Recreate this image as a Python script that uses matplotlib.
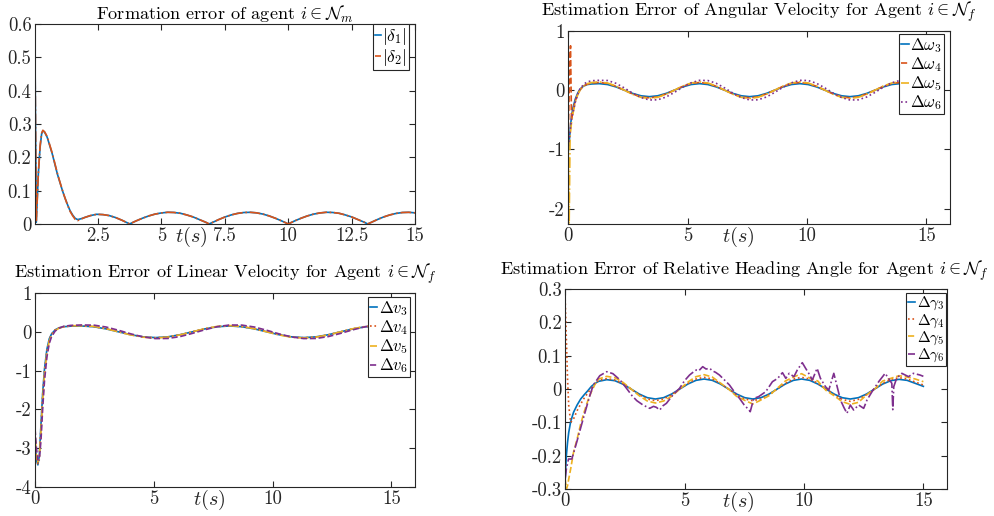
import numpy as np
import matplotlib
matplotlib.use("Agg")
import matplotlib.pyplot as plt

plt.rcParams['font.family'] = 'serif'
plt.rcParams['font.serif'] = ['cmr10', 'DejaVu Serif']
plt.rcParams['mathtext.fontset'] = 'cm'
plt.rcParams['axes.unicode_minus'] = False

C1, C2, C3, C4 = '#0072BD', '#D95319', '#EDB120', '#7E2F8E'
GRAY = '#262626'

# ---- formation error |delta_1|, |delta_2|
t_m = [0.02, 0.07, 0.15, 0.22, 0.28, 0.33, 0.4, 0.5, 0.6, 0.7, 0.8, 0.9, 1.0, 1.1, 1.2, 1.3, 1.4,
       1.5, 1.6, 1.7, 1.85, 2.0, 2.2, 2.45, 2.7, 2.95, 3.2, 3.45, 3.75, 4.0, 4.25, 4.5, 4.75, 5.0,
       5.25, 5.5, 5.75, 6.0, 6.25, 6.5, 6.75, 6.88, 7.0, 7.25, 7.5, 7.75, 8.0, 8.25, 8.5, 8.75, 9.0,
       9.25, 9.5, 9.75, 10.0, 10.25, 10.5, 10.75, 11.0, 11.25, 11.5, 11.75, 12.0, 12.25, 12.5, 12.75,
       13.0, 13.13, 13.25, 13.5, 13.75, 14.0, 14.25, 14.5, 14.75, 15.0]
delta1 = [0.50, 0.005, 0.15, 0.23, 0.27, 0.28, 0.275, 0.26, 0.235, 0.21, 0.18, 0.15, 0.125, 0.10,
          0.078, 0.058, 0.04, 0.027, 0.017, 0.013, 0.016, 0.02, 0.025, 0.029, 0.028, 0.025, 0.019,
          0.011, 0.0, 0.009, 0.017, 0.024, 0.0295, 0.033, 0.035, 0.0344, 0.032, 0.027, 0.021, 0.013,
          0.005, 0.0, 0.004, 0.0128, 0.0207, 0.027, 0.0316, 0.0343, 0.0349, 0.0333, 0.0296, 0.024,
          0.0169, 0.0087, 0.0, 0.009, 0.017, 0.024, 0.0295, 0.033, 0.035, 0.0344, 0.032, 0.027, 0.021,
          0.013, 0.005, 0.0, 0.004, 0.0128, 0.0207, 0.027, 0.0316, 0.0343, 0.0349, 0.0333]
delta2 = [0.49, 0.01, 0.15, 0.235, 0.272, 0.281, 0.276, 0.262, 0.237, 0.212, 0.182, 0.152, 0.126,
          0.101, 0.078, 0.057, 0.038, 0.025, 0.014, 0.010, 0.015, 0.02, 0.025, 0.029, 0.028, 0.025,
          0.019, 0.011, 0.0, 0.009, 0.017, 0.024, 0.0295, 0.033, 0.035, 0.0344, 0.032, 0.027, 0.021,
          0.013, 0.005, 0.0, 0.004, 0.0128, 0.0207, 0.027, 0.0316, 0.0343, 0.0349, 0.0333, 0.0296,
          0.024, 0.0169, 0.0087, 0.0, 0.009, 0.017, 0.024, 0.0295, 0.033, 0.035, 0.0344, 0.032, 0.027,
          0.021, 0.013, 0.005, 0.0, 0.004, 0.0128, 0.0207, 0.027, 0.0316, 0.0343, 0.0349, 0.0333]

# ---- angular velocity estimation error
t_w = [0, 0.04, 0.08, 0.1, 0.14, 0.2, 0.3, 0.4, 0.5, 0.65, 0.8, 1.0,
       1.30, 1.65, 2.00, 2.35, 2.70, 3.05, 3.40, 3.75, 4.10, 4.45, 4.80, 5.15, 5.50, 5.85,
       6.20, 6.55, 6.90, 7.25, 7.60, 7.95, 8.30, 8.65, 9.00, 9.35, 9.70, 10.05, 10.40, 10.75,
       11.10, 11.45, 11.80, 12.15, 12.50, 12.85, 13.20, 13.55, 13.90, 14.25, 14.60, 14.95]
dw3 = [-1.05, -0.9, -0.7, -0.6, -0.45, -0.3, -0.15, -0.05, 0.02, 0.07, 0.095, 0.105,
       0.11, 0.095, 0.055, 0.0, -0.055, -0.095, -0.11, -0.095, -0.055, 0.0, 0.055, 0.095,
       0.11, 0.095, 0.055, 0.0, -0.055, -0.095, -0.11, -0.095, -0.055, 0.0, 0.055, 0.095,
       0.11, 0.095, 0.055, 0.0, -0.055, -0.095, -0.11, -0.095, -0.055, 0.0, 0.055, 0.095,
       0.11, 0.095, 0.055, 0.0]
dw4 = [-0.8, -0.1, 0.6, 0.75, -0.5, -0.35, -0.18, -0.07, 0.01, 0.07, 0.1, 0.12,
       0.13, 0.113, 0.065, 0.0, -0.065, -0.113, -0.13, -0.113, -0.065, 0.0, 0.065, 0.113,
       0.13, 0.113, 0.065, 0.0, -0.065, -0.113, -0.13, -0.113, -0.065, 0.0, 0.065, 0.113,
       0.13, 0.113, 0.065, 0.0, -0.065, -0.113, -0.13, -0.113, -0.065, 0.0, 0.065, 0.113,
       0.13, 0.113, 0.065, 0.0]
dw5 = [-0.8, -2.4, -0.8, -0.7, -0.55, -0.4, -0.2, -0.08, 0.0, 0.07, 0.11, 0.13,
       0.14, 0.121, 0.07, 0.0, -0.07, -0.121, -0.14, -0.121, -0.07, 0.0, 0.07, 0.121,
       0.14, 0.121, 0.07, 0.0, -0.07, -0.121, -0.14, -0.121, -0.07, 0.0, 0.07, 0.121,
       0.14, 0.121, 0.07, 0.0, -0.07, -0.121, -0.14, -0.121, -0.07, 0.0, 0.07, 0.121,
       0.14, 0.121, 0.07, 0.0]
dw6 = [-0.95, -0.85, -0.7, -0.62, -0.5, -0.38, -0.2, -0.07, 0.02, 0.1, 0.14, 0.16,
       0.166, 0.163, 0.116, 0.038, -0.05, -0.124, -0.166, -0.163, -0.116, -0.038, 0.05, 0.124,
       0.166, 0.163, 0.116, 0.038, -0.05, -0.124, -0.166, -0.163, -0.116, -0.038, 0.05, 0.124,
       0.166, 0.163, 0.116, 0.038, -0.05, -0.124, -0.166, -0.163, -0.116, -0.038, 0.05, 0.124,
       0.166, 0.163, 0.116, 0.038]

# ---- linear velocity estimation error
t_v = [0, 0.06, 0.12, 0.18, 0.25, 0.32, 0.4, 0.5, 0.6, 0.7, 0.85, 1.0, 1.2, 1.5,
       1.95, 2.47, 2.99, 3.51, 4.03, 4.55, 5.07, 5.59, 6.11, 6.63, 7.15, 7.67, 8.19, 8.71,
       9.23, 9.75, 10.27, 10.79, 11.31, 11.83, 12.35, 12.87, 13.39, 13.91, 14.43, 14.95]
dv3 = [-2.9, -3.3, -3.43, -3.2, -2.4, -1.6, -0.95, -0.45, -0.18, -0.05, 0.05, 0.1, 0.13, 0.145,
       0.15, 0.13, 0.075, 0.0, -0.075, -0.13, -0.15, -0.13, -0.075, 0.0, 0.075, 0.13, 0.15, 0.13,
       0.075, 0.0, -0.075, -0.13, -0.15, -0.13, -0.075, 0.0, 0.075, 0.13, 0.15, 0.13]
dv4 = [-2.8, -3.25, -3.4, -3.2, -2.45, -1.65, -1.0, -0.5, -0.2, -0.06, 0.05, 0.1, 0.13, 0.15,
       0.155, 0.134, 0.078, 0.0, -0.078, -0.134, -0.155, -0.134, -0.078, 0.0, 0.078, 0.134, 0.155,
       0.134, 0.078, 0.0, -0.078, -0.134, -0.155, -0.134, -0.078, 0.0, 0.078, 0.134, 0.155, 0.134]
dv5 = [-2.7, -3.15, -3.35, -3.25, -2.6, -1.8, -1.1, -0.55, -0.24, -0.09, 0.03, 0.09, 0.13, 0.155,
       0.16, 0.139, 0.08, 0.0, -0.08, -0.139, -0.16, -0.139, -0.08, 0.0, 0.08, 0.139, 0.16, 0.139,
       0.08, 0.0, -0.08, -0.139, -0.16, -0.139, -0.08, 0.0, 0.08, 0.139, 0.16, 0.139]
dv6 = [-2.5, -3.0, -3.3, -3.3, -2.8, -2.0, -1.25, -0.65, -0.3, -0.12, 0.02, 0.09, 0.14, 0.165,
       0.175, 0.172, 0.123, 0.04, -0.053, -0.132, -0.175, -0.172, -0.123, -0.04, 0.053, 0.132,
       0.175, 0.172, 0.123, 0.04, -0.053, -0.132, -0.175, -0.172, -0.123, -0.04, 0.053, 0.132,
       0.175, 0.172]

# ---- relative heading angle estimation error
t_g = [0, 0.05, 0.1, 0.15, 0.23, 0.35, 0.5, 0.65, 0.8, 0.95, 1.1, 1.25, 1.4,
       1.74, 2.08, 2.42, 2.76, 3.10, 3.44, 3.78, 4.12, 4.46, 4.80, 5.14, 5.48, 5.82, 6.16,
       6.50, 6.84, 7.18, 7.52, 7.86, 8.20, 8.54, 8.88, 9.22, 9.56, 9.90, 10.24, 10.58, 10.92,
       11.26, 11.60, 11.94, 12.28, 12.62, 12.96, 13.30, 13.64, 13.98, 14.32, 14.66, 15.00]
dg3 = [-0.27, -0.2, -0.16, -0.13, -0.098, -0.07, -0.048, -0.03, -0.017, -0.005, 0.008, 0.017, 0.023,
       0.028, 0.025, 0.0145, 0.0, -0.015, -0.026, -0.030, -0.026, -0.015, 0.0, 0.015, 0.026,
       0.030, 0.026, 0.015, 0.0, -0.015, -0.026, -0.030, -0.026, -0.015, 0.0, 0.015, 0.026,
       0.030, 0.026, 0.015, 0.0, -0.015, -0.026, -0.030, -0.026, -0.015, 0.0, 0.015, 0.025,
       0.029, 0.026, 0.017, 0.008]
dg4 = [0.27, 0.15, 0.03, -0.05, -0.1, -0.09, -0.065, -0.045, -0.027, -0.012, 0.003, 0.016, 0.026,
       0.031, 0.027, 0.016, 0.0, -0.017, -0.030, -0.035, -0.030, -0.017, 0.0, 0.017, 0.030,
       0.035, 0.030, 0.017, 0.0, -0.017, -0.030, -0.035, -0.030, -0.017, 0.0, 0.017, 0.030,
       0.035, 0.030, 0.017, 0.0, -0.017, -0.031, -0.037, -0.031, -0.017, 0.0, 0.017, 0.029,
       0.034, 0.030, 0.021, 0.012]
dg5 = [-0.27, -0.30, -0.29, -0.27, -0.24, -0.19, -0.15, -0.105, -0.068, -0.035, -0.008, 0.014, 0.03,
       0.038, 0.034, 0.020, 0.0, -0.020, -0.036, -0.042, -0.036, -0.022, 0.0, 0.021, 0.037,
       0.043, 0.036, 0.018, 0.0, -0.022, -0.034, -0.045, -0.033, -0.02, 0.002, 0.024, 0.036,
       0.046, 0.033, 0.024, -0.004, -0.02, -0.038, -0.046, -0.040, -0.018, 0.0, 0.024, 0.032,
       0.040, 0.036, 0.030, 0.022]
t_g6 = [0, 0.05, 0.14, 0.28, 0.49, 0.76, 1.04, 1.18, 1.45, 1.74, 2.0, 2.3, 2.57, 2.8, 3.0, 3.26,
        3.54, 3.7, 3.82, 3.96, 4.1, 4.24, 4.51, 4.79, 5.0, 5.21, 5.35, 5.49, 5.6, 5.76, 5.9, 6.05,
        6.18, 6.3, 6.46, 6.7, 6.88, 7.1, 7.3, 7.5, 7.7, 7.75, 7.9, 8.1, 8.4, 8.68, 8.9, 9.1, 9.24,
        9.38, 9.58, 9.72, 9.93, 10.07, 10.2, 10.35, 10.55, 10.69, 10.9, 11.04, 11.25, 11.39, 11.53,
        11.67, 11.8, 11.94, 12.08, 12.29, 12.5, 12.64, 12.85, 13.13, 13.4, 13.54, 13.68, 13.72,
        13.76, 13.88, 14.1, 14.38, 14.58, 14.86, 15.0]
dg6 = [-0.27, -0.24, -0.21, -0.21, -0.158, -0.088, -0.018, 0.012, 0.04, 0.052, 0.046, 0.027, 0.002,
       -0.02, -0.035, -0.048, -0.058, -0.052, -0.055, -0.063, -0.05, -0.043, -0.018, 0.002, 0.025,
       0.042, 0.05, 0.057, 0.055, 0.067, 0.06, 0.062, 0.054, 0.05, 0.042, 0.025, 0.012, -0.01,
       -0.028, -0.048, -0.063, -0.068, -0.028, -0.023, -0.008, 0.022, 0.032, 0.049, 0.032, 0.047,
       0.037, 0.057, 0.079, 0.062, 0.047, 0.027, 0.062, 0.032, 0.007, -0.003, 0.047, 0.007, -0.033,
       -0.055, -0.073, -0.048, -0.063, -0.048, -0.058, -0.033, -0.008, 0.022, 0.047, 0.032, 0.017,
       -0.062, 0.007, 0.032, 0.047, 0.037, 0.047, 0.042, 0.038]

fig = plt.figure(figsize=(9.95, 5.16), dpi=100)
ax1 = fig.add_axes([0.0352, 0.566, 0.382, 0.3876])
ax2 = fig.add_axes([0.571, 0.566, 0.384, 0.374])
ax3 = fig.add_axes([0.0352, 0.0562, 0.382, 0.376])
ax4 = fig.add_axes([0.568, 0.0523, 0.384, 0.3876])

TICK_FS = 13.5
TITLE_FS = 13.1


def style(ax, xlim, ylim, xt, xtl, yt, ytl, tx):
    ax.set_xlim(*xlim)
    ax.set_ylim(*ylim)
    ax.set_xticks(xt)
    ax.set_xticklabels(xtl)
    ax.set_yticks(yt)
    ax.set_yticklabels(ytl)
    ax.tick_params(direction='in', top=True, right=True, length=4, width=0.8,
                   colors=GRAY, labelsize=TICK_FS, pad=2.5)
    for s in ax.spines.values():
        s.set_color(GRAY)
        s.set_linewidth(0.8)
    ax.annotate('$t(s)$', xy=(tx, 0), xycoords='axes fraction', xytext=(0, -13),
                textcoords='offset pixels', ha='center', va='center', fontsize=14.5, color=GRAY)


def legend(ax, anchor, hl, fs, ls):
    lg = ax.legend(loc='upper right', bbox_to_anchor=anchor, borderaxespad=0, fontsize=fs,
                   handlelength=hl, handletextpad=0.1, borderpad=0.12, labelspacing=ls,
                   fancybox=False, framealpha=1)
    lg.get_frame().set_edgecolor(GRAY)
    lg.get_frame().set_linewidth(0.8)


lw = 1.2
ax1.plot(t_m, delta1, color=C1, lw=lw, label=r'$|\delta_1|$')
ax1.plot(t_m, delta2, color=C2, lw=lw, ls='-.', label=r'$|\delta_2|$')
style(ax1, (0.02, 15), (0, 0.6), [2.5, 5, 7.5, 10, 12.5, 15],
      ['2.5', '5', '7.5', '10', '12.5', '15'],
      [0, 0.1, 0.2, 0.3, 0.4, 0.5, 0.6], ['0', '0.1', '0.2', '0.3', '0.4', '0.5', '0.6'], 0.41)
ax1.set_title(r'Formation error of agent $i\in\mathcal{N}_m$', fontsize=TITLE_FS, pad=3)
legend(ax1, (0.984, 1.0), 0.3, 12.5, 0.0)

ax2.plot(t_w, dw3, color=C1, lw=lw, label=r'$\Delta\omega_3$')
ax2.plot(t_w, dw4, color=C2, lw=lw, ls='--', label=r'$\Delta\omega_4$')
ax2.plot(t_w, dw5, color=C3, lw=lw, ls='-.', label=r'$\Delta\omega_5$')
ax2.plot(t_w, dw6, color=C4, lw=lw, ls=':', label=r'$\Delta\omega_6$')
style(ax2, (0, 16), (-2.26, 1), [0, 5, 10, 15], ['0', '5', '10', '15'],
      [-2, -1, 0, 1], ['-2', '-1', '0', '1'], 0.445)
ax2.set_title(r'Estimation Error of Angular Velocity for Agent $i\in\mathcal{N}_f$',
              fontsize=TITLE_FS, pad=11)
legend(ax2, (0.984, 0.984), 0.45, 12, 0.02)

ax3.plot(t_v, dv3, color=C1, lw=lw, label=r'$\Delta v_3$')
ax3.plot(t_v, dv4, color=C2, lw=lw, ls=':', label=r'$\Delta v_4$')
ax3.plot(t_v, dv5, color=C3, lw=lw, ls='-.', label=r'$\Delta v_5$')
ax3.plot(t_v, dv6, color=C4, lw=lw, ls='--', label=r'$\Delta v_6$')
style(ax3, (0, 16), (-4, 1), [0, 5, 10, 15], ['0', '5', '10', '15'],
      [-4, -3, -2, -1, 0, 1], ['-4', '-3', '-2', '-1', '0', '1'], 0.458)
ax3.set_title(r'Estimation Error of Linear Velocity for Agent $i\in\mathcal{N}_f$',
              fontsize=TITLE_FS, pad=11)
legend(ax3, (0.987, 0.979), 0.45, 12, 0.02)

ax4.plot(t_g, dg3, color=C1, lw=lw, label=r'$\Delta\gamma_3$')
ax4.plot(t_g, dg4, color=C2, lw=lw, ls=':', label=r'$\Delta\gamma_4$')
ax4.plot(t_g, dg5, color=C3, lw=lw, ls='--', label=r'$\Delta\gamma_5$')
ax4.plot(t_g6, dg6, color=C4, lw=lw, ls='-.', label=r'$\Delta\gamma_6$')
style(ax4, (0, 16), (-0.3, 0.3), [0, 5, 10, 15], ['0', '5', '10', '15'],
      [-0.3, -0.2, -0.1, 0, 0.1, 0.2, 0.3],
      ['-0.3', '-0.2', '-0.1', '0', '0.1', '0.2', '0.3'], 0.453)
ax4.set_title(r'Estimation Error of Relative Heading Angle for Agent $i\in\mathcal{N}_f$',
              fontsize=TITLE_FS, pad=10, x=0.47)
legend(ax4, (0.997, 0.98), 0.45, 11, 0.0)

fig.savefig('out.png', dpi=100)
